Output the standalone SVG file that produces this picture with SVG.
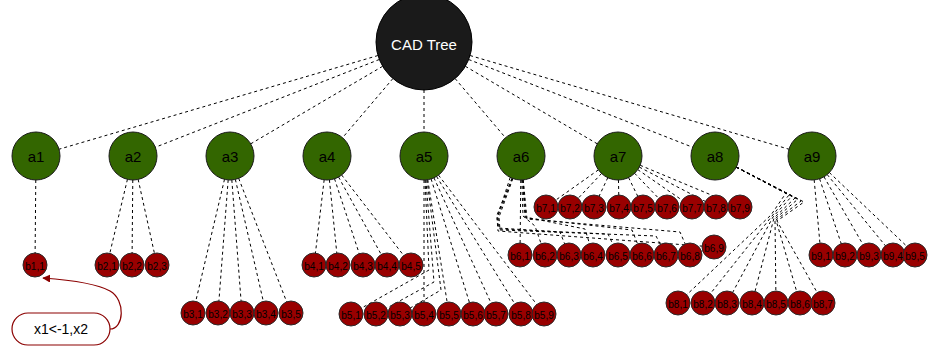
<svg xmlns="http://www.w3.org/2000/svg" width="928" height="350" viewBox="0 0 928 350">
<style>
.e{fill:none;stroke:#000;stroke-width:1;stroke-dasharray:3,3}
.root{fill:#1a1a1a;stroke:#000}
.a{fill:#336600;stroke:#1a1a1a;stroke-width:1}
.b{fill:#990000;stroke:#2a2a2a;stroke-width:1}
.ta{font-family:"Liberation Sans",Arial,sans-serif;font-size:15px;fill:#000;text-anchor:middle;dominant-baseline:central}
.tb{font-family:"Liberation Sans",Arial,sans-serif;font-size:10px;fill:#000;text-anchor:middle;dominant-baseline:central}
.tr{font-family:"Liberation Sans",Arial,sans-serif;font-size:15px;fill:#fff;text-anchor:middle;dominant-baseline:central}
.tl{font-family:"Liberation Sans",Arial,sans-serif;font-size:14px;fill:#000;text-anchor:middle;dominant-baseline:central}
</style>
<defs>
<marker id="arr" viewBox="0 0 10 10" refX="9" refY="5" markerWidth="8" markerHeight="8" orient="auto" markerUnits="userSpaceOnUse">
<path d="M0,0 L10,5 L0,10 Z" fill="#8b0000"/>
</marker>
</defs>
<rect width="928" height="350" fill="#fff"/>
<g id="connectors">
<path class="e" d="M424,42 L36,156"/>
<path class="e" d="M424,42 L133,156"/>
<path class="e" d="M424,42 L230,156"/>
<path class="e" d="M424,42 L327,156"/>
<path class="e" d="M424,42 L424,156"/>
<path class="e" d="M424,42 L521,156"/>
<path class="e" d="M424,42 L618,156"/>
<path class="e" d="M424,42 L715,156"/>
<path class="e" d="M424,42 L812,156"/>
<path class="e" d="M36,156 L35,265"/>
<path class="e" d="M133,156 L107,265"/>
<path class="e" d="M133,156 L132,265"/>
<path class="e" d="M133,156 L157,265"/>
<path class="e" d="M230,156 L193,313"/>
<path class="e" d="M230,156 L218,313"/>
<path class="e" d="M230,156 L242,313"/>
<path class="e" d="M230,156 L266,313"/>
<path class="e" d="M230,156 L291,313"/>
<path class="e" d="M327,156 L314,265"/>
<path class="e" d="M327,156 L338,265"/>
<path class="e" d="M327,156 L363,265"/>
<path class="e" d="M327,156 L387,265"/>
<path class="e" d="M327,156 L411,265"/>
<path class="e" d="M424,156 L429,270 L351,314"/>
<path class="e" d="M424,156 L434,282 L376,314"/>
<path class="e" d="M424,156 L441,290 L400,314"/>
<path class="e" d="M424,156 L424,314"/>
<path class="e" d="M424,156 L449,314"/>
<path class="e" d="M424,156 L473,314"/>
<path class="e" d="M424,156 L496,314"/>
<path class="e" d="M424,156 L521,314"/>
<path class="e" d="M424,156 L544,314"/>
<path class="e" d="M521,156 L520,255"/>
<path class="e" d="M521,156 L523,216 L535,226 L545,255"/>
<path class="e" d="M521,156 L497,215 L498,228 L560,232 L569,255"/>
<path class="e" d="M521,156 L525,217 L585,229 L593,255"/>
<path class="e" d="M521,156 L498,216 L499,229 L608,234 L618,255"/>
<path class="e" d="M521,156 L526,218 L632,230 L642,255"/>
<path class="e" d="M521,156 L499,217 L500,230 L656,236 L666,255"/>
<path class="e" d="M521,156 L527,219 L680,232 L690,255"/>
<path class="e" d="M521,156 L510,178 L497,218 L498,231 L714,247"/>
<path class="e" d="M618,156 L546,207"/>
<path class="e" d="M618,156 L570,207"/>
<path class="e" d="M618,156 L594,207"/>
<path class="e" d="M618,156 L619,207"/>
<path class="e" d="M618,156 L643,207"/>
<path class="e" d="M618,156 L667,207"/>
<path class="e" d="M618,156 L692,207"/>
<path class="e" d="M618,156 L716,207"/>
<path class="e" d="M618,156 L740,207"/>
<path class="e" d="M715,156 L786,193 L771,215 L678,303"/>
<path class="e" d="M715,156 L789,195 L772,216 L703,303"/>
<path class="e" d="M715,156 L792,196 L773,217 L727,303"/>
<path class="e" d="M715,156 L795,198 L774,218 L752,303"/>
<path class="e" d="M715,156 L798,199 L775,219 L776,303"/>
<path class="e" d="M715,156 L801,201 L776,220 L800,303"/>
<path class="e" d="M715,156 L804,202 L777,221 L823,303"/>
<path class="e" d="M812,156 L821,255"/>
<path class="e" d="M812,156 L845,255"/>
<path class="e" d="M812,156 L869,255"/>
<path class="e" d="M812,156 L893,255"/>
<path class="e" d="M812,156 L916,255"/>
<path d="M110,329 C124,329 126,300 110,291 C96,283 70,280 43,278" fill="none" stroke="#8b0000" stroke-width="1.2" marker-end="url(#arr)"/>
</g>
<g id="root"><circle class="root" cx="424" cy="42" r="48"/><text class="tr" x="424" y="44">CAD Tree</text></g>
<g id="a1"><circle class="a" cx="36" cy="156" r="24"/><text class="ta" x="36" y="156">a1</text></g>
<g id="a2"><circle class="a" cx="133" cy="156" r="24"/><text class="ta" x="133" y="156">a2</text></g>
<g id="a3"><circle class="a" cx="230" cy="156" r="24"/><text class="ta" x="230" y="156">a3</text></g>
<g id="a4"><circle class="a" cx="327" cy="156" r="24"/><text class="ta" x="327" y="156">a4</text></g>
<g id="a5"><circle class="a" cx="424" cy="156" r="24"/><text class="ta" x="424" y="156">a5</text></g>
<g id="a6"><circle class="a" cx="521" cy="156" r="24"/><text class="ta" x="521" y="156">a6</text></g>
<g id="a7"><circle class="a" cx="618" cy="156" r="24"/><text class="ta" x="618" y="156">a7</text></g>
<g id="a8"><circle class="a" cx="715" cy="156" r="24"/><text class="ta" x="715" y="156">a8</text></g>
<g id="a9"><circle class="a" cx="812" cy="156" r="24"/><text class="ta" x="812" y="156">a9</text></g>
<g id="b1_1"><circle class="b" cx="35" cy="265" r="12"/><text class="tb" x="35" y="266">b1,1</text></g>
<g id="b2_1"><circle class="b" cx="107" cy="265" r="12"/><text class="tb" x="107" y="266">b2,1</text></g>
<g id="b2_2"><circle class="b" cx="132" cy="265" r="12"/><text class="tb" x="132" y="266">b2,2</text></g>
<g id="b2_3"><circle class="b" cx="157" cy="265" r="12"/><text class="tb" x="157" y="266">b2,3</text></g>
<g id="b3_1"><circle class="b" cx="193" cy="313" r="12"/><text class="tb" x="193" y="314">b3,1</text></g>
<g id="b3_2"><circle class="b" cx="218" cy="313" r="12"/><text class="tb" x="218" y="314">b3,2</text></g>
<g id="b3_3"><circle class="b" cx="242" cy="313" r="12"/><text class="tb" x="242" y="314">b3,3</text></g>
<g id="b3_4"><circle class="b" cx="266" cy="313" r="12"/><text class="tb" x="266" y="314">b3,4</text></g>
<g id="b3_5"><circle class="b" cx="291" cy="313" r="12"/><text class="tb" x="291" y="314">b3,5</text></g>
<g id="b4_1"><circle class="b" cx="314" cy="265" r="12"/><text class="tb" x="314" y="266">b4,1</text></g>
<g id="b4_2"><circle class="b" cx="338" cy="265" r="12"/><text class="tb" x="338" y="266">b4,2</text></g>
<g id="b4_3"><circle class="b" cx="363" cy="265" r="12"/><text class="tb" x="363" y="266">b4,3</text></g>
<g id="b4_4"><circle class="b" cx="387" cy="265" r="12"/><text class="tb" x="387" y="266">b4,4</text></g>
<g id="b4_5"><circle class="b" cx="411" cy="265" r="12"/><text class="tb" x="411" y="266">b4,5</text></g>
<g id="b5_1"><circle class="b" cx="351" cy="314" r="12"/><text class="tb" x="351" y="315">b5,1</text></g>
<g id="b5_2"><circle class="b" cx="376" cy="314" r="12"/><text class="tb" x="376" y="315">b5,2</text></g>
<g id="b5_3"><circle class="b" cx="400" cy="314" r="12"/><text class="tb" x="400" y="315">b5,3</text></g>
<g id="b5_4"><circle class="b" cx="424" cy="314" r="12"/><text class="tb" x="424" y="315">b5,4</text></g>
<g id="b5_5"><circle class="b" cx="449" cy="314" r="12"/><text class="tb" x="449" y="315">b5,5</text></g>
<g id="b5_6"><circle class="b" cx="473" cy="314" r="12"/><text class="tb" x="473" y="315">b5,6</text></g>
<g id="b5_7"><circle class="b" cx="496" cy="314" r="12"/><text class="tb" x="496" y="315">b5,7</text></g>
<g id="b5_8"><circle class="b" cx="521" cy="314" r="12"/><text class="tb" x="521" y="315">b5,8</text></g>
<g id="b5_9"><circle class="b" cx="544" cy="314" r="12"/><text class="tb" x="544" y="315">b5,9</text></g>
<g id="b6_1"><circle class="b" cx="520" cy="255" r="12"/><text class="tb" x="520" y="256">b6,1</text></g>
<g id="b6_2"><circle class="b" cx="545" cy="255" r="12"/><text class="tb" x="545" y="256">b6,2</text></g>
<g id="b6_3"><circle class="b" cx="569" cy="255" r="12"/><text class="tb" x="569" y="256">b6,3</text></g>
<g id="b6_4"><circle class="b" cx="593" cy="255" r="12"/><text class="tb" x="593" y="256">b6,4</text></g>
<g id="b6_5"><circle class="b" cx="618" cy="255" r="12"/><text class="tb" x="618" y="256">b6,5</text></g>
<g id="b6_6"><circle class="b" cx="642" cy="255" r="12"/><text class="tb" x="642" y="256">b6,6</text></g>
<g id="b6_7"><circle class="b" cx="666" cy="255" r="12"/><text class="tb" x="666" y="256">b6,7</text></g>
<g id="b6_8"><circle class="b" cx="690" cy="255" r="12"/><text class="tb" x="690" y="256">b6,8</text></g>
<g id="b6_9"><circle class="b" cx="714" cy="247" r="12"/><text class="tb" x="714" y="248">b6,9</text></g>
<g id="b7_1"><circle class="b" cx="546" cy="207" r="12"/><text class="tb" x="546" y="208">b7,1</text></g>
<g id="b7_2"><circle class="b" cx="570" cy="207" r="12"/><text class="tb" x="570" y="208">b7,2</text></g>
<g id="b7_3"><circle class="b" cx="594" cy="207" r="12"/><text class="tb" x="594" y="208">b7,3</text></g>
<g id="b7_4"><circle class="b" cx="619" cy="207" r="12"/><text class="tb" x="619" y="208">b7,4</text></g>
<g id="b7_5"><circle class="b" cx="643" cy="207" r="12"/><text class="tb" x="643" y="208">b7,5</text></g>
<g id="b7_6"><circle class="b" cx="667" cy="207" r="12"/><text class="tb" x="667" y="208">b7,6</text></g>
<g id="b7_7"><circle class="b" cx="692" cy="207" r="12"/><text class="tb" x="692" y="208">b7,7</text></g>
<g id="b7_8"><circle class="b" cx="716" cy="207" r="12"/><text class="tb" x="716" y="208">b7,8</text></g>
<g id="b7_9"><circle class="b" cx="740" cy="207" r="12"/><text class="tb" x="740" y="208">b7,9</text></g>
<g id="b8_1"><circle class="b" cx="678" cy="303" r="12"/><text class="tb" x="678" y="304">b8,1</text></g>
<g id="b8_2"><circle class="b" cx="703" cy="303" r="12"/><text class="tb" x="703" y="304">b8,2</text></g>
<g id="b8_3"><circle class="b" cx="727" cy="303" r="12"/><text class="tb" x="727" y="304">b8,3</text></g>
<g id="b8_4"><circle class="b" cx="752" cy="303" r="12"/><text class="tb" x="752" y="304">b8,4</text></g>
<g id="b8_5"><circle class="b" cx="776" cy="303" r="12"/><text class="tb" x="776" y="304">b8,5</text></g>
<g id="b8_6"><circle class="b" cx="800" cy="303" r="12"/><text class="tb" x="800" y="304">b8,6</text></g>
<g id="b8_7"><circle class="b" cx="823" cy="303" r="12"/><text class="tb" x="823" y="304">b8,7</text></g>
<g id="b9_1"><circle class="b" cx="821" cy="255" r="12"/><text class="tb" x="821" y="256">b9,1</text></g>
<g id="b9_2"><circle class="b" cx="845" cy="255" r="12"/><text class="tb" x="845" y="256">b9,2</text></g>
<g id="b9_3"><circle class="b" cx="869" cy="255" r="12"/><text class="tb" x="869" y="256">b9,3</text></g>
<g id="b9_4"><circle class="b" cx="893" cy="255" r="12"/><text class="tb" x="893" y="256">b9,4</text></g>
<g id="b9_5"><circle class="b" cx="915" cy="255" r="12"/><text class="tb" x="915" y="256">b9,5</text></g>
<g id="label"><rect x="12" y="313" width="98" height="32" rx="16" ry="16" fill="#fff" stroke="#8b0000" stroke-width="1.2"/><text class="tl" x="61" y="329">x1&lt;-1,x2</text></g>
</svg>
